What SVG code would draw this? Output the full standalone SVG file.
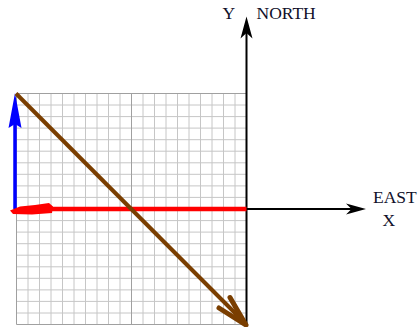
<svg xmlns="http://www.w3.org/2000/svg" width="420" height="327" viewBox="0 0 420 327">
<style>
.minor{stroke:#c6c6c6;stroke-width:1;fill:none}
.major{stroke:#a0a0a0;stroke-width:1;fill:none}
.axis{stroke:#000;stroke-width:2;fill:none}
.lbl{font-family:"Liberation Serif","Times New Roman",serif;font-size:17.5px;fill:#10102a}
</style>
<rect width="420" height="327" fill="#fff"/>
<g id="grid">
<path class="minor" d="M28 93.5V324.5M39.5 93.5V324.5M51 93.5V324.5M62.5 93.5V324.5M74 93.5V324.5M85.5 93.5V324.5M97 93.5V324.5M108.5 93.5V324.5M120 93.5V324.5M143 93.5V324.5M154.5 93.5V324.5M166 93.5V324.5M177.5 93.5V324.5M189 93.5V324.5M200.5 93.5V324.5M212 93.5V324.5M223.5 93.5V324.5M235 93.5V324.5
M16.5 105H246.5M16.5 116.6H246.5M16.5 128.1H246.5M16.5 139.7H246.5M16.5 151.2H246.5M16.5 162.8H246.5M16.5 174.3H246.5M16.5 185.9H246.5M16.5 197.4H246.5M16.5 220.6H246.5M16.5 232.1H246.5M16.5 243.7H246.5M16.5 255.2H246.5M16.5 266.8H246.5M16.5 278.3H246.5M16.5 289.9H246.5M16.5 301.4H246.5M16.5 313H246.5"/>
<path class="major" d="M16.5 93.5V324.5M131.5 93.5V324.5M16.5 93.5H246.5M16.5 324.5H246.5M16.5 209H246.5"/>
</g>
<g id="axes">
<path class="axis" d="M246.5 325V30M246.5 209H355"/>
<path d="M246.5 16.5L240.5 38.5L246.5 33L252.5 38.5Z" fill="#000"/>
<path d="M366 209L346 203.5L351.5 209L346 214.5Z" fill="#000"/>
</g>
<g id="vectors">
<path d="M15 209V118" stroke="#0000ff" stroke-width="3.5" fill="none"/>
<path d="M15 93L8.5 128L15 124L21.5 128Z" fill="#0000ff"/>
<path d="M40 209H246.5" stroke="#ff0000" stroke-width="4.5" fill="none"/>
<path d="M10 210.5L20 206.5L35 205L49 203L53 206.5L52 213L32 214.5L13 214Z" fill="#ff0000"/>
<path d="M16 93.5L240 318" stroke="#7a3e00" stroke-width="4" fill="none"/>
<path d="M246 325L230 297.5M246 325L219 308" stroke="#7a3e00" stroke-width="5" stroke-linecap="round" fill="none"/>
<path d="M246.5 325.5L234 305L238 316L226 312Z" fill="#7a3e00"/>
</g>
<g id="labels">
<text class="lbl" x="222.5" y="19">Y</text>
<text class="lbl" x="256.5" y="19">NORTH</text>
<text class="lbl" x="373" y="203">EAST</text>
<text class="lbl" x="382.5" y="226">X</text>
</g>
</svg>
